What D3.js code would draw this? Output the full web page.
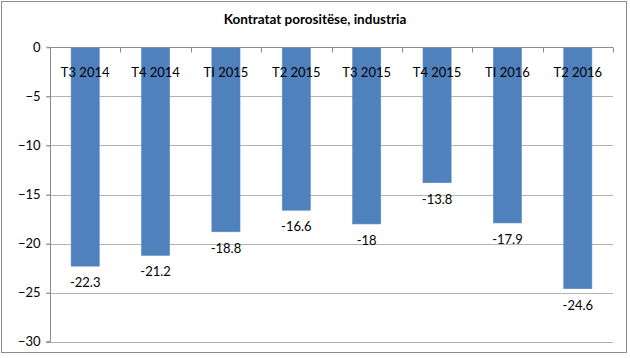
<!DOCTYPE html>
<html><head><meta charset="utf-8">
<script src="https://cdn.jsdelivr.net/npm/d3@7"></script>
<style>body{margin:0;background:#fff}svg{display:block}</style>
</head><body>
<svg id="c" width="630" height="358"></svg>
<script>
const categories = ["T3 2014","T4 2014","TI 2015","T2 2015","T3 2015","T4 2015","TI 2016","T2 2016"];
const values = [-22.3,-21.2,-18.8,-16.6,-18,-13.8,-17.9,-24.6];
const yTicks = [0,-5,-10,-15,-20,-25,-30];
const title = "Kontratat porositëse, industria";

const svg = d3.select("#c");
const font = "Lato, 'Open Sans', sans-serif";
svg.append("rect").attr("x",1.5).attr("y",1.5).attr("width",625).attr("height",351)
  .attr("fill","#fff").attr("stroke","#8c8c8c").attr("stroke-width",1);

const L=50, R=613, T=47.3, B=341.7;
const x = d3.scaleBand().domain(categories).range([L,R]).paddingInner(0.6).paddingOuter(0.3);
const y = d3.scaleLinear().domain([-30,0]).range([B,T]);

svg.append("text").attr("x",315).attr("y",24).attr("text-anchor","middle")
  .attr("font-family",font).attr("font-weight","bold").attr("font-size",13.5).attr("fill","#000").text(title);

// gridlines
svg.append("g").selectAll("line").data(yTicks.filter(d=>d!==0)).join("line")
  .attr("x1",L-4).attr("x2",R).attr("y1",d=>Math.round(y(d))+0.5).attr("y2",d=>Math.round(y(d))+0.5)
  .attr("stroke","#b3b3b3");

// bars
svg.append("g").selectAll("rect").data(values).join("rect")
  .attr("x",(d,i)=>x(categories[i])).attr("width",x.bandwidth())
  .attr("y",y(0)).attr("height",d=>y(d)-y(0))
  .attr("fill","#4f81bd").attr("stroke","#5b8cc7").attr("stroke-width",0.6);

// y axis
const ya = d3.axisLeft(y).tickValues(yTicks).tickSize(4).tickPadding(6).tickFormat(d3.format("d"));
const yg = svg.append("g").attr("transform",`translate(${L+0.5},0)`).call(ya);
yg.select(".domain").attr("stroke","#8c8c8c").attr("d",`M-4,${T}H0V${B}H-4`);
yg.selectAll(".tick line").attr("stroke","#8c8c8c");
yg.selectAll("text").attr("font-family",font).attr("font-size",13).attr("fill","#000");

// x axis at zero
const xg = svg.append("g").attr("transform",`translate(0,${Math.round(y(0))+0.5})`);
xg.append("line").attr("x1",L).attr("x2",R).attr("stroke","#8c8c8c");
const bounds = categories.map((c,i)=>L + i*(R-L)/categories.length).concat([R]);
xg.selectAll("line.t").data(bounds).join("line").attr("class","t")
  .attr("x1",d=>Math.round(d)+0.5).attr("x2",d=>Math.round(d)+0.5).attr("y1",0).attr("y2",5).attr("stroke","#8c8c8c");
xg.selectAll("text").data(categories).join("text")
  .attr("x",d=>x(d)+x.bandwidth()/2).attr("y",29).attr("text-anchor","middle")
  .attr("font-family",font).attr("font-size",13).attr("fill","#000").text(d=>d);

// data labels
svg.append("g").selectAll("text").data(values).join("text")
  .attr("x",(d,i)=>x(categories[i])+x.bandwidth()/2).attr("y",d=>y(d)+21)
  .attr("text-anchor","middle").attr("font-family",font).attr("font-size",13).attr("fill","#000")
  .text(d=>d);
</script>
</body></html>
